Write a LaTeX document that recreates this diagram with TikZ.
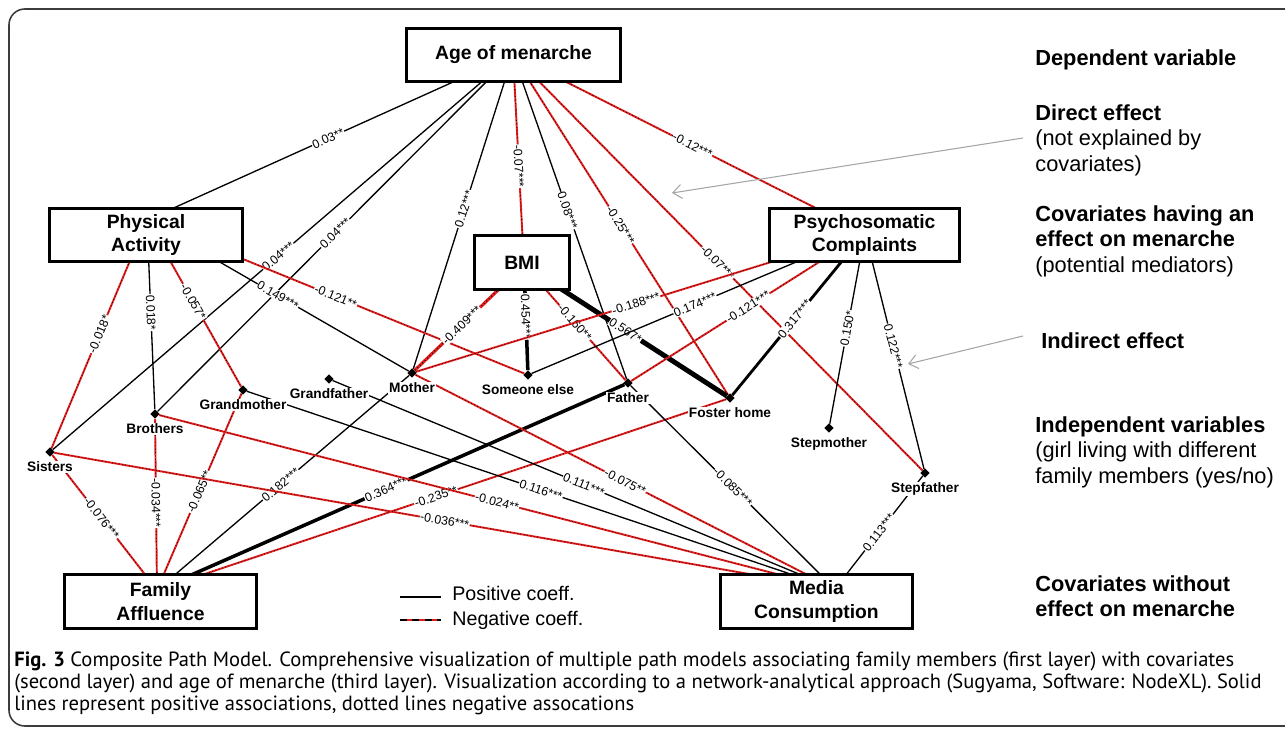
\documentclass[tikz,border=0pt]{standalone}
\usepackage{fontspec}
\setmainfont{Liberation Sans}
\newfontfamily\capfont{PT Sans}
\usetikzlibrary{positioning,shapes.geometric,arrows.meta,backgrounds}

\definecolor{negred}{RGB}{232,30,30}
\definecolor{hintgray}{RGB}{165,165,165}
\definecolor{framegray}{RGB}{60,60,60}

\begin{document}
\begin{tikzpicture}[
    x=0.02cm, y=-0.02cm,
    box/.style={draw, line width=1.9pt, fill=white, align=center, inner sep=0pt,
        font=\bfseries\fontsize{11}{13.6}\selectfont},
    member/.style={diamond, fill=black, inner sep=0pt, minimum size=0.19cm},
    who/.style={fill=white, inner sep=0.4pt, font=\bfseries\fontsize{7.8}{9}\selectfont},
    pos edge/.style={draw=black, line width=#1},
    pos edge/.default=0.75pt,
    neg edge/.style={draw=negred, line width=#1,
        postaction={draw=black, line width=0.4*#1, dash pattern=on 0.45pt off 1.5pt}},
    neg edge/.default=1.1pt,
    coef/.style={sloped, fill=white, inner sep=0.4pt, font=\fontsize{7}{8}\selectfont},
    side/.style={anchor=north west, align=left, inner sep=0pt,
        font=\fontsize{12.4}{14.7}\selectfont},
    hint/.style={draw=hintgray, line width=0.6pt, -{Straight Barb[length=5pt,width=8pt]}},
    ]
    \useasboundingbox (0,0) rectangle (1285,729);

    % vertices the paths run to
    \coordinate (age) at (513,55);
    \coordinate (pa) at (147,220);
    \coordinate (bmi) at (524,265);
    \coordinate (psy) at (865,233);
    \coordinate (fam) at (157,590);
    \coordinate (media) at (835,589);

    % boxes
    \node[box, minimum width=4.28cm, minimum height=1.06cm] (agebox) at (513.5,55) {Age of menarche};
    \node[box, minimum width=3.86cm, minimum height=1.06cm] (pabox) at (146,235) {Physical\\Activity};
    \node[box, minimum width=1.9cm, minimum height=1.08cm] (bmibox) at (522,262.5) {BMI};
    \node[box, minimum width=3.8cm, minimum height=1.06cm] (psybox) at (864.5,235) {Psychosomatic\\Complaints};
    \node[box, minimum width=3.84cm, minimum height=1.08cm] (fambox) at (160.5,601.5) {Family\\Affluence};
    \node[box, minimum width=3.84cm, minimum height=1.08cm] (mediabox) at (816.5,601.5) {Media\\Consumption};

    % family members
    \node[member] (sis) at (50,452) {};
    \node[member] (bro) at (155,414) {};
    \node[member] (gm) at (243,390) {};
    \node[member] (gf) at (329,379) {};
    \node[member] (mo) at (412,373) {};
    \node[member] (se) at (528,375) {};
    \node[member] (fat) at (628,383) {};
    \node[member] (fh) at (730,398) {};
    \node[member] (smo) at (829,428) {};
    \node[member] (sfa) at (925,473) {};
    \node[who, below=2.2pt of sis] (sislab) {Sisters};
    \node[who, below=2.2pt of bro] (brolab) {Brothers};
    \node[who, below=2.2pt of gm] (gmlab) {Grandmother};
    \node[who, below=2.2pt of gf] (gflab) {Grandfather};
    \node[who, below=2.2pt of mo] (molab) {Mother};
    \node[who, below=2.2pt of se] (selab) {Someone else};
    \node[who, below=2.2pt of fat] (fatlab) {Father};
    \node[who, below=2.2pt of fh] (fhlab) {Foster home};
    \node[who, below=2.2pt of smo] (smolab) {Stepmother};
    \node[who, below=2.2pt of sfa] (sfalab) {Stepfather};

    \begin{scope}[on background layer]
        \draw[framegray, line width=0.9pt, rounded corners=9pt] (9,9) rectangle (1330,726);

        % age of menarche
        \draw[pos edge] (age) -- node[coef, pos=0.505] {0.03**} (pa);
        \draw[pos edge] (age) -- node[coef, pos=0.51] {0.04***} (sis);
        \draw[pos edge] (age) -- node[coef, pos=0.5] {0.04***} (bro);
        \draw[pos edge] (age) -- node[coef, pos=0.49] {0.12***} (mo);
        \draw[neg edge] (age) -- node[coef, pos=0.53] {-0.07***} (bmi);
        \draw[pos edge] (age) -- node[coef, pos=0.48] {0.08***} (fat);
        \draw[neg edge] (age) -- node[coef, pos=0.5] {-0.25***} (fh);
        \draw[neg edge] (age) -- node[coef, pos=0.5] {-0.07***} (sfa);
        \draw[neg edge] (age) -- node[coef, pos=0.51] {-0.12***} (psy);

        % physical activity
        \draw[neg edge] (pa) -- node[coef, pos=0.5] {-0.018*} (sis);
        \draw[pos edge] (pa) -- node[coef, pos=0.49] {0.018*} (bro);
        \draw[neg edge] (pa) -- node[coef, pos=0.49] {-0.057*} (gm);
        \draw[pos edge] (pa) -- node[coef, pos=0.5] {0.149***} (mo);
        \draw[neg edge] (pa) -- node[coef, pos=0.5] {-0.121**} (se);

        % bmi
        \draw[neg edge=1.8pt] (bmi) -- node[coef, pos=0.57] {-0.409***} (mo);
        \draw[pos edge=2pt] (bmi) -- node[coef, pos=0.49] {0.454***} (se);
        \draw[neg edge] (bmi) -- node[coef, pos=0.5] {-0.160**} (fat);
        \draw[pos edge=2.8pt] (bmi) -- node[coef, pos=0.5] {0.567*} (fh);

        % psychosomatic complaints
        \draw[neg edge] (psy) -- node[coef, pos=0.51] {-0.188***} (mo);
        \draw[pos edge] (psy) -- node[coef, pos=0.51] {0.174***} (se);
        \draw[neg edge] (psy) -- node[coef, pos=0.5] {-0.121***} (fat);
        \draw[pos edge=1.6pt] (psy) -- node[coef, pos=0.53] {0.317***} (fh);
        \draw[pos edge] (psy) -- node[coef, pos=0.5] {0.150*} (smo);
        \draw[pos edge] (psy) -- node[coef, pos=0.48] {0.122***} (sfa);

        % family affluence
        \draw[neg edge] (fam) -- node[coef, pos=0.53] {-0.076***} (sis);
        \draw[neg edge] (fam) -- node[coef, pos=0.51] {-0.034***} (bro);
        \draw[neg edge] (fam) -- node[coef, pos=0.5] {-0.065**} (gm);
        \draw[pos edge] (fam) -- node[coef, pos=0.49] {0.182***} (mo);
        \draw[pos edge=2pt] (fam) -- node[coef, pos=0.49] {0.364***} (fat);
        \draw[neg edge] (fam) -- node[coef, pos=0.49] {-0.235**} (fh);

        % media consumption
        \draw[neg edge] (media) -- node[coef, pos=0.5] {-0.036***} (sis);
        \draw[neg edge] (media) -- node[coef, pos=0.5] {-0.024**} (bro);
        \draw[pos edge] (media) -- node[coef, pos=0.5] {0.116***} (gm);
        \draw[pos edge] (media) -- node[coef, pos=0.5] {0.111***} (gf);
        \draw[neg edge] (media) -- node[coef, pos=0.5] {-0.075**} (mo);
        \draw[pos edge] (media) -- node[coef, pos=0.5] {-0.085***} (fat);
        \draw[pos edge] (media) -- node[coef, pos=0.5] {0.113***} (sfa);
    \end{scope}

    % legend
    \coordinate (posl) at (400,597);
    \coordinate (posr) at (441,597);
    \coordinate (negl) at (400,620);
    \coordinate (negr) at (441,620);
    \draw[pos edge=1.2pt] (posl) -- (posr);
    \draw[negred, line width=1.5pt] (negl) -- (negr);
    \draw[line width=1.2pt, dash pattern=on 4pt off 3pt] (negl) -- (negr);
    \node[anchor=base west, inner sep=0pt, font=\fontsize{11.2}{13}\selectfont] (postext) at (452,600) {Positive coeff.};
    \node[anchor=base west, inner sep=0pt, font=\fontsize{11.2}{13}\selectfont] (negtext) at (452,625) {Negative coeff.};

    % layer notes
    \node[side] (dep) at (1035,49) {\textbf{Dependent variable}};
    \node[side] (direct) at (1035,104) {\textbf{Direct effect}\\(not explained by\\covariates)};
    \node[side] (medi) at (1035,205) {\textbf{Covariates having an}\\\textbf{effect on menarche}\\(potential mediators)};
    \node[side] (indirect) at (1041,332) {\textbf{Indirect effect}};
    \node[side] (indep) at (1035,416) {\textbf{Independent variables}\\(girl living with different\\family members (yes/no)};
    \node[side] (nomedi) at (1035,575) {\textbf{Covariates without}\\\textbf{effect on menarche}};
    \coordinate (directtail) at (1023,138);
    \coordinate (directhead) at (672,193);
    \coordinate (indirecttail) at (1023,336);
    \coordinate (indirecthead) at (908,364);
    \draw[hint] (directtail) -- (directhead);
    \draw[hint] (indirecttail) -- (indirecthead);

    % caption
    \node[anchor=north west, align=left, inner sep=0pt, font=\capfont\fontsize{11.7}{12.3}\selectfont] (caption) at (14,652)
        {\textbf{Fig. 3} Composite Path Model. Comprehensive visualization of multiple path models associating family members (first layer) with covariates\\
        (second layer) and age of menarche (third layer). Visualization according to a network-analytical approach (Sugyama, Software: NodeXL). Solid\\
        lines represent positive associations, dotted lines negative assocations};
\end{tikzpicture}
\end{document}
